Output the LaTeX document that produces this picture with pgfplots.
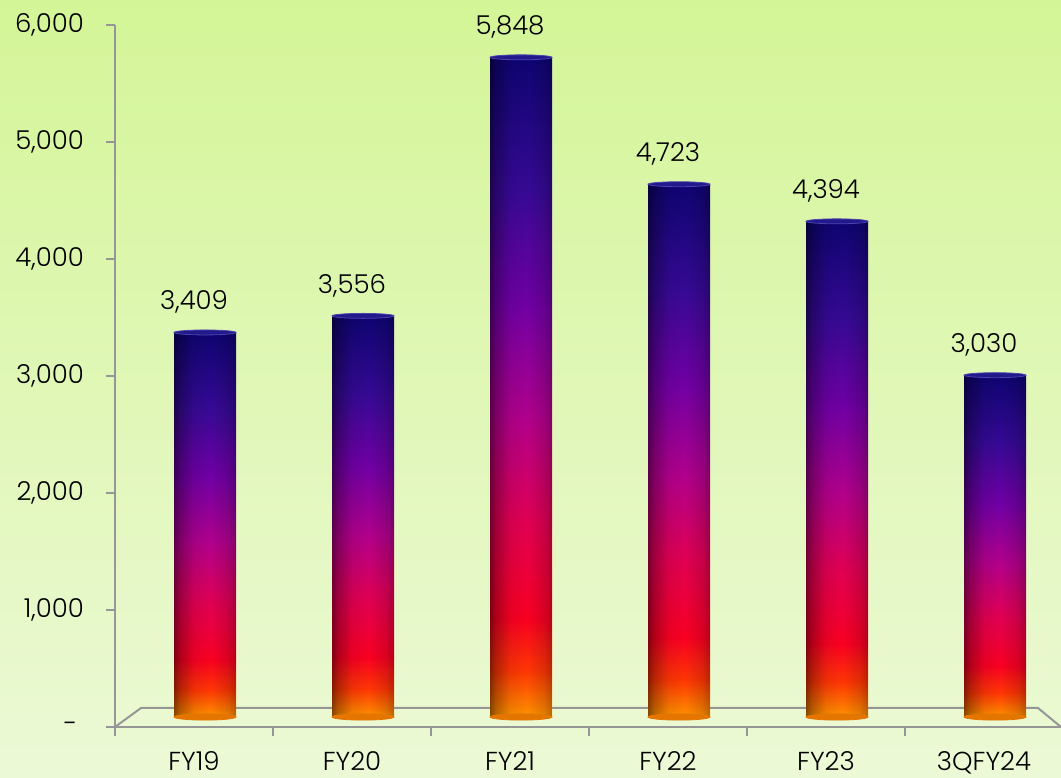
\documentclass[border=0pt]{standalone}
\usepackage{pgfplots}
\usepackage{pgfplotstable}
\pgfplotsset{compat=1.18}
\usepackage{fontspec}
\setmainfont{Poppins}[UprightFont=* Light]
\usetikzlibrary{fadings}

% page background
\definecolor{bgtop}{RGB}{212,245,151}
\definecolor{bgbot}{RGB}{236,249,214}
\definecolor{axisgray}{RGB}{150,150,150}

% cylinder colour ramp, bottom to top
\definecolor{cA}{RGB}{255,150,0}
\definecolor{cB}{RGB}{255,55,5}
\definecolor{cC}{RGB}{250,0,35}
\definecolor{cD}{RGB}{225,0,85}
\definecolor{cE}{RGB}{180,0,140}
\definecolor{cF}{RGB}{115,0,165}
\definecolor{cG}{RGB}{55,10,150}
\definecolor{cH}{RGB}{15,5,115}
\definecolor{capTop}{RGB}{35,25,140}
\definecolor{capRim}{RGB}{75,65,175}
\definecolor{capBot}{RGB}{228,118,0}

\pgfdeclareverticalshading{cylcolor}{100bp}{%
  color(0bp)=(cA); color(25bp)=(cA); color(28.5bp)=(cB); color(32.5bp)=(cC);
  color(40bp)=(cD); color(47.5bp)=(cE); color(56bp)=(cF); color(65bp)=(cG);
  color(75bp)=(cH); color(100bp)=(cH)}

% side darkening of the cylinders (white = opaque, black = clear)
\definecolor{opA}{gray}{0.62}
\definecolor{opB}{gray}{0.30}
\definecolor{opC}{gray}{0.07}
\definecolor{opD}{gray}{0.0}
\definecolor{opE}{gray}{0.12}
\definecolor{opF}{gray}{0.35}
\pgfdeclarehorizontalshading{cylmask}{100bp}{%
  color(0bp)=(opA); color(25bp)=(opA); color(32bp)=(opB); color(42bp)=(opC);
  color(54bp)=(opD); color(66bp)=(opE); color(75bp)=(opF); color(100bp)=(opF)}
\begin{tikzfadingfrompicture}[name=cyl]
  \shade[shading=cylmask] (-1cm,-1cm) rectangle (1cm,1cm);
\end{tikzfadingfrompicture}

\pgfplotstableread{
x y
0 3409
1 3556
2 5848
3 4723
4 4394
5 3030
}\sales

\begin{document}
\begin{tikzpicture}
\useasboundingbox (0,0) rectangle (530.5pt,388.5pt);
\shade[top color=bgtop, bottom color=bgbot] (0,0) rectangle (530.5pt,388.5pt);

% value axis with the floor
\begin{axis}[
  at={(57.5pt,25pt)}, anchor=south west,
  scale only axis, width=474pt, height=351pt,
  xmin=-0.5, xmax=5.5, ymin=0, ymax=6000,
  axis x line=bottom, axis y line=left,
  axis line style={axisgray, line width=1pt, -},
  tick style={axisgray, line width=1pt},
  tick align=outside, major tick length=4.5pt,
  xtick={-0.5,0.5,1.5,2.5,3.5,4.5}, xticklabels={},
  extra x ticks={0,1,2,3,4,5},
  extra x tick labels={FY19,FY20,FY21,FY22,FY23,3QFY24},
  extra x tick style={major tick length=0pt,
    xticklabel style={yshift=-8.5pt}},
  ytick={0,1000,2000,3000,4000,5000,6000},
  yticklabels={{\makebox[10pt][l]{-}},{1,000},{2,000},{3,000},{4,000},{5,000},{6,000}},
  yticklabel style={xshift=-7.5pt},
  tick label style={font=\fontsize{13}{15}\selectfont, text=black},
  clip=false,
]
\draw[axisgray, line width=1pt]
  (axis cs:-0.5,0) -- ++(13pt,9.5pt) -- ++(448.5pt,0pt) -- ++(11.5pt,-9.5pt);
\end{axis}

% cylinders, one path per year so each gets its own shading
\begin{axis}[
  at={(57.5pt,25pt)}, anchor=south west,
  scale only axis, width=474pt, height=351pt,
  xmin=-0.5, xmax=5.5, ymin=-88.7, ymax=6134.8,
  hide axis, clip=false,
]
\addplot[only marks, mark=*, mark size=15.5pt,
  mark options={xshift=5.5pt, yscale=0.1, fill=capBot, draw=capBot}]
  table[x=x, y expr=0] {\sales};
\pgfplotsinvokeforeach{0,...,5}{
  \addplot[ybar, bar width=31pt, bar shift=5.5pt, draw=none, shading=cylcolor,
    restrict x to domain=#1:#1,
    nodes near coords={\pgfmathprintnumber[fixed, precision=0, 1000 sep={,},
      assume math mode=true]{\pgfplotspointmeta}},
    every node near coord/.append style={font=\fontsize{13}{15}\selectfont,
      text=black, anchor=south, yshift=6pt}]
    table[x=x, y=y] {\sales};
  \addplot[ybar, bar width=31pt, bar shift=5.5pt, draw=none, fill=black,
    path fading=cyl, restrict x to domain=#1:#1]
    table[x=x, y=y] {\sales};
}
\addplot[only marks, mark=*, mark size=15.5pt,
  mark options={xshift=5.5pt, yscale=0.08, fill=capTop, draw=capRim,
    line width=0.4pt}]
  table[x=x, y=y] {\sales};
\end{axis}
\end{tikzpicture}
\end{document}
